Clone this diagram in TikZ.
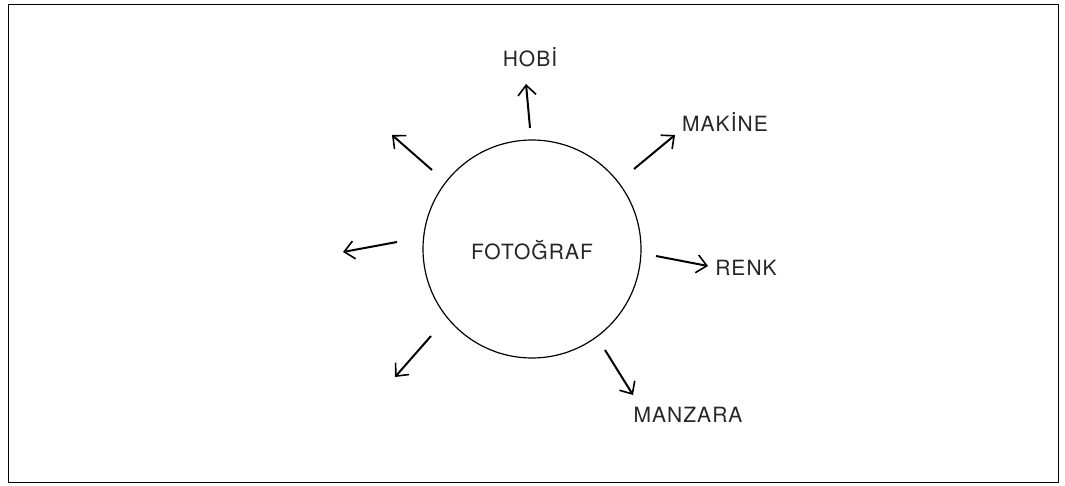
\documentclass[tikz,border=0pt]{standalone}
\usepackage{fontspec}
\setmainfont{TeX Gyre Heros}[LetterSpace=5]
\usetikzlibrary{arrows.meta}
\begin{document}
\begin{tikzpicture}[x=1pt,y=-1pt,
  lbl/.style={font=\fontsize{21}{25}\selectfont, inner sep=0pt, text=black!85},
  arr/.style={line width=2pt, -{Straight Barb[length=10pt,width=18pt,line width=1.6pt]}}]
\useasboundingbox (0,0) rectangle (1065,486);
\draw[line width=1pt] (8,5) rectangle (1058,482);
\node[circle, draw, line width=1.2pt, minimum size=218pt, inner sep=0pt] (c) at (532,249) {};
\node[lbl] (t) at (532,250) {FOTOĞRAF};
\coordinate (a1s) at (530,128); \coordinate (a1e) at (526,84);
\coordinate (a2s) at (634,169); \coordinate (a2e) at (675,135);
\coordinate (a3s) at (656,256); \coordinate (a3e) at (708,266);
\coordinate (a4s) at (605,350); \coordinate (a4e) at (633,395);
\coordinate (a5s) at (432,170); \coordinate (a5e) at (392,135);
\coordinate (a6s) at (397,242); \coordinate (a6e) at (343,252);
\coordinate (a7s) at (431,336); \coordinate (a7e) at (395,377);
\draw[arr] (a1s) -- (a1e);
\draw[arr] (a2s) -- (a2e);
\draw[arr] (a3s) -- (a3e);
\draw[arr] (a4s) -- (a4e);
\draw[arr] (a5s) -- (a5e);
\draw[arr] (a6s) -- (a6e);
\draw[arr] (a7s) -- (a7e);
\node[lbl] (hobi) at (530,57) {HOBİ};
\node[lbl] (makine) at (725,122) {MAKİNE};
\node[lbl] (renk) at (746,268) {RENK};
\node[lbl] (manzara) at (688,415) {MANZARA};
\end{tikzpicture}
\end{document}
